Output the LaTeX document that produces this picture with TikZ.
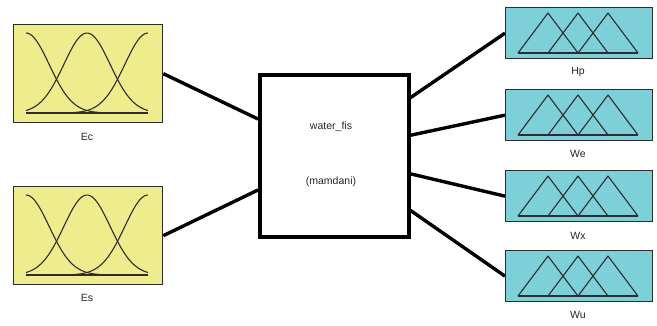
\documentclass[tikz,border=0pt]{standalone}
\usepackage{fontspec}
\setmainfont{Liberation Sans}
\usetikzlibrary{backgrounds}
\definecolor{mfyellow}{RGB}{238,236,140}
\definecolor{mfcyan}{RGB}{125,208,216}
\definecolor{mfedge}{RGB}{45,45,45}

% three Gaussian membership functions, 122 wide and 80 high, from the given top-left corner
\newcommand\drawGaussMFs[2]{%
  \begin{scope}[shift={(#1,#2)}]
    \draw[mf] (0,80) -- (122,80);
    \draw[mf] plot[domain=0:1,samples=60] ({122*\x},{80-80*exp(-((\x)^2)/0.0722)});
    \draw[mf] plot[domain=0:1,samples=60] ({122*\x},{80-80*exp(-((\x-0.5)^2)/0.0722)});
    \draw[mf] plot[domain=0:1,samples=60] ({122*\x},{80-80*exp(-((\x-1)^2)/0.0722)});
  \end{scope}}

% three triangular membership functions, 120 wide and 40 high
\newcommand\drawTriMFs[2]{%
  \begin{scope}[shift={(#1,#2)}]
    \draw[mf] (0,40) -- (120,40);
    \draw[mf] (0,40) -- (30,0) -- (60,40);
    \draw[mf] (30,40) -- (60,0) -- (90,40);
    \draw[mf] (60,40) -- (90,0) -- (120,40);
  \end{scope}}

\begin{document}
\begin{tikzpicture}[x=1pt,y=-1pt,
  inbox/.style={draw=mfedge, line width=1.3pt, fill=mfyellow, minimum width=149pt, minimum height=98pt, inner sep=0pt, anchor=north west},
  outbox/.style={draw=mfedge, line width=1.3pt, fill=mfcyan, minimum width=147pt, minimum height=51pt, inner sep=0pt, anchor=north west},
  fisbox/.style={draw=black, line width=3.5pt, fill=white, minimum width=149pt, minimum height=162pt, inner sep=0pt, anchor=north west},
  mf/.style={draw=mfedge, line width=1.1pt, line join=round},
  lbl/.style={font=\fontsize{10.5}{12}\selectfont, text=black!85, inner sep=0pt},
  link/.style={line width=3.4pt, black}
]
\useasboundingbox (0,0) rectangle (657,325);

% input variables
\node[inbox] (ec) at (13,24) {};
\node[inbox] (es) at (13,186) {};
\drawGaussMFs{26}{33}
\drawGaussMFs{26}{195}
\node[lbl] (ecl) at (87,137) {Ec};
\node[lbl] (esl) at (87,298) {Es};

% inference system
\node[fisbox] (fis) at (258,73) {};
\node[lbl] (fisname) at (331,127) {water\_fis};
\node[lbl] (fistype) at (331,182) {(mamdani)};

% output variables
\node[outbox] (hp) at (505,7) {};
\node[outbox] (we) at (505,89) {};
\node[outbox] (wx) at (505,170) {};
\node[outbox] (wu) at (505,250) {};
\drawTriMFs{518}{13}
\drawTriMFs{518}{95}
\drawTriMFs{518}{176}
\drawTriMFs{518}{256}
\node[lbl] (hpl) at (578,72) {Hp};
\node[lbl] (wel) at (578,154) {We};
\node[lbl] (wxl) at (578,236) {Wx};
\node[lbl] (wul) at (578,315) {Wu};

% connection points on the inference box
\coordinate (fisA) at (258,119);
\coordinate (fisB) at (258,190);
\coordinate (fisC) at (407,100);
\coordinate (fisD) at (407,136);
\coordinate (fisE) at (407,173);
\coordinate (fisF) at (407,208);

\begin{pgfonlayer}{background}
  \fill[white] (0,0) rectangle (657,325);
  \draw[link] (ec.east) -- (fisA);
  \draw[link] (es.east) -- (fisB);
  \draw[link] (fisC) -- (hp.west);
  \draw[link] (fisD) -- (we.west);
  \draw[link] (fisE) -- (wx.west);
  \draw[link] (fisF) -- (wu.west);
\end{pgfonlayer}
\end{tikzpicture}
\end{document}
